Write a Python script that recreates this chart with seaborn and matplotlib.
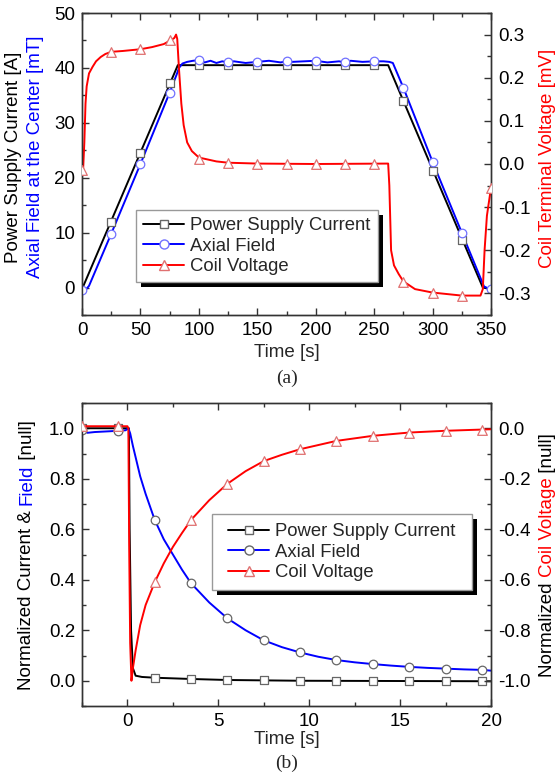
# Coil ramp test: supply current, axial field and coil voltage
import numpy as np
import pandas as pd
import matplotlib
matplotlib.use("Agg")
import matplotlib.pyplot as plt
import seaborn as sns
from matplotlib.lines import Line2D
from matplotlib.patches import Rectangle
from matplotlib.transforms import IdentityTransform

# ---------------- panel (a) data ----------------
# power supply current [A]
a_cur_t = [1, 82, 262, 343, 350]
a_cur_v = [0.2, 40.5, 40.5, 0.0, -0.3]
# axial field at the center [mT]
a_fld_t = [0, 2, 4, 6, 25, 50, 75, 81, 83, 86, 90, 95, 100, 105, 110, 115, 120,
           125, 130, 140, 150, 160, 170, 175, 180, 190, 200, 210, 220, 225, 230,
           240, 250, 258, 263, 266, 275, 300, 325, 344, 347, 350]
a_fld_v = [-0.7, -0.5, -0.2, 0.3, 9.8, 22.5, 35.5, 38.8, 40.0, 40.8, 41.1, 41.3,
           41.4, 41.0, 41.3, 40.9, 41.2, 41.0, 41.2, 40.9, 41.1, 41.3, 41.0, 41.2,
           41.1, 41.2, 41.3, 41.0, 41.2, 41.0, 41.3, 41.1, 41.2, 41.2, 41.1, 40.9,
           36.4, 22.9, 10.0, 0.2, -0.1, -0.2]
# coil terminal voltage [mV]
a_vol_t = [0, 1, 2, 3, 4, 6, 9, 12, 16, 20, 25, 35, 50, 60, 70, 76, 79, 80.5,
           81.5, 83, 85, 87, 90, 94, 100, 115, 125, 150, 200, 262, 263, 264.5,
           267, 271, 275, 285, 300, 325, 341, 343, 344.5, 346.5, 350]
a_vol_v = [-0.03, -0.01, 0.05, 0.14, 0.18, 0.21, 0.225, 0.238, 0.248, 0.255,
           0.26, 0.262, 0.266, 0.271, 0.278, 0.287, 0.292, 0.30, 0.29, 0.22, 0.14,
           0.09, 0.05, 0.03, 0.015, 0.006, 0.003, 0.001, 0.0, 0.001, -0.05, -0.2,
           -0.235, -0.255, -0.272, -0.29, -0.298, -0.305, -0.305, -0.29, -0.2,
           -0.12, -0.055]
# symbols
a_sq_t = [25, 50, 75, 100, 125, 150, 175, 200, 225, 250, 275, 300, 325]
a_sq_v = [12.0, 24.5, 37.2, 40.5, 40.5, 40.5, 40.5, 40.5, 40.5, 40.5, 34.0, 21.3, 8.7]
a_mk_t = [0, 25, 50, 75, 100, 125, 150, 175, 200, 225, 250, 275, 300, 325, 350]
a_ci_v = [-0.5, 9.8, 22.5, 35.5, 41.4, 41.0, 41.0, 41.2, 41.2, 41.0, 41.2, 36.4,
          22.9, 10.0, -0.2]
a_tr_v = [-0.014, 0.26, 0.267, 0.287, 0.011, 0.003, 0.0, 0.0, 0.0, 0.0, 0.0,
          -0.273, -0.298, -0.305, -0.055]

# ---------------- panel (b) data ----------------
b_cur_t = [-2.5, 0.08, 0.12, 0.2, 0.3, 0.45, 0.8, 1.5, 3.5, 5.5, 9.5, 20]
b_cur_v = [1.0, 1.0, 0.6, 0.2, 0.05, 0.02, 0.015, 0.012, 0.007, 0.003, 0.0, -0.002]
b_fld_t = [-2.5, -2.2, -1.8, -1.0, -0.5, -0.1, 0.05, 0.15, 0.3, 0.5, 0.7, 1.0,
           1.5, 2.0, 2.5, 3.0, 3.5, 4.5, 5.5, 6.5, 7.5, 8.5, 9.5, 10.5, 11.5,
           12.5, 13.5, 14.5, 15.5, 16.5, 17.5, 18.5, 19.5, 20]
b_fld_v = [0.995, 0.982, 0.985, 0.988, 0.99, 0.992, 1.0, 0.98, 0.93, 0.87, 0.81,
           0.74, 0.637, 0.56, 0.5, 0.44, 0.386, 0.31, 0.247, 0.2, 0.16, 0.133,
           0.112, 0.095, 0.082, 0.073, 0.066, 0.06, 0.055, 0.051, 0.048, 0.045,
           0.043, 0.04]
b_vol_t = [-2.5, 0.0, 0.05, 0.1, 0.15, 0.22, 0.3, 0.45, 0.7, 1.0, 1.5, 2.0, 2.5,
           3.0, 3.5, 4.5, 5.5, 6.5, 7.5, 8.5, 9.5, 11.5, 13.5, 15.5, 17.5, 20]
b_vol_v = [0.008, 0.008, 0.0, -0.5, -0.85, -1.0, -0.95, -0.88, -0.78, -0.7,
           -0.61, -0.535, -0.47, -0.415, -0.363, -0.285, -0.22, -0.17, -0.13,
           -0.105, -0.083, -0.05, -0.03, -0.017, -0.01, -0.004]
b_mk_t = [-2.5, -0.5, 1.5, 3.5, 5.5, 7.5, 9.5, 11.5, 13.5, 15.5, 17.5, 19.5]
b_sq_v = [1.0, 1.0, 0.012, 0.007, 0.003, 0.001, 0.0, 0.0, 0.0, 0.0, 0.0, -0.001]
b_ci_v = [0.995, 0.99, 0.637, 0.386, 0.247, 0.16, 0.112, 0.082, 0.066, 0.055,
          0.048, 0.043]
b_tr_v = [0.008, 0.008, -0.61, -0.363, -0.22, -0.13, -0.083, -0.05, -0.03,
          -0.017, -0.01, -0.005]

labels = ["Power Supply Current", "Axial Field", "Coil Voltage"]

# ---------------- style ----------------
sns.set_style("ticks")
plt.rcParams["font.family"] = ["Liberation Sans", "DejaVu Sans"]
plt.rcParams["axes.linewidth"] = 1.0
plt.rcParams["axes.edgecolor"] = "#333333"

BLACK, BLUE, RED = "#000000", "#0000ff", "#ff0000"
LW = 1.4
FS = 13.5
LABEL_FS = 13.5

fig = plt.figure(figsize=(5.6, 7.8), dpi=100)
W, H = 560, 780


def px_axes(x0, y0, x1, y1):
    return fig.add_axes([x0 / W, 1 - y1 / H, (x1 - x0) / W, (y1 - y0) / H])


def style_axis(ax):
    ax.tick_params(axis="both", which="both", direction="in", labelsize=FS,
                   colors="#333333", labelcolor="black")
    ax.tick_params(which="major", length=5, width=1, pad=5)
    ax.tick_params(which="minor", length=3, width=1)


def curve(ax, t, v, color):
    sns.lineplot(x=t, y=v, ax=ax, color=color, lw=LW, estimator=None, sort=False)


def symbols(ax, t, v, marker, edge, size):
    sns.scatterplot(x=t, y=v, ax=ax, marker=marker, s=size, color="white",
                    edgecolor=edge, linewidth=0.9, zorder=3)


def add_legend(ax, anchor, circ_edge):
    handles = [
        Line2D([], [], color=BLACK, lw=LW, marker="s", ms=6, mfc="white", mec="#666666"),
        Line2D([], [], color=BLUE, lw=LW, marker="o", ms=6.5, mfc="white", mec=circ_edge),
        Line2D([], [], color=RED, lw=LW, marker="^", ms=7, mfc="white", mec="#e07070"),
    ]
    leg = ax.legend(handles, labels, loc="upper left", bbox_to_anchor=anchor,
                    borderaxespad=0, fontsize=13.3, handlelength=2.2,
                    handletextpad=0.35, borderpad=0.4, labelspacing=0.18,
                    fancybox=False, framealpha=1)
    leg.get_frame().set_visible(False)
    return leg


def legend_frame(ax, leg, pad_x, pad_y):
    # Origin-like frame: thin grey box with solid black drop shadow
    bb = leg.get_window_extent()
    x0, y0 = bb.x0 - pad_x, bb.y0 - pad_y
    w, h = bb.width + 2 * pad_x, bb.height + 2 * pad_y
    ax.add_artist(Rectangle((x0 + 5, y0 - 5), w, h, transform=IdentityTransform(),
                            facecolor="black", edgecolor="none", zorder=4.5))
    ax.add_artist(Rectangle((x0, y0), w, h, transform=IdentityTransform(),
                            facecolor="white", edgecolor="#999999", lw=1.0,
                            zorder=4.6))


def vertical_text(x_px, yc_px, parts, size):
    r = fig.canvas.get_renderer()
    heights = []
    for s, c in parts:
        t = fig.text(0, 0, s, rotation=90, fontsize=size)
        heights.append(t.get_window_extent(r).height)
        t.remove()
    y = yc_px + sum(heights) / 2  # top-down pixel coords: bottom of the text
    for (s, c), h in zip(parts, heights):
        fig.text(x_px / W, 1 - y / H, s, rotation=90, color=c, fontsize=size,
                 ha="center", va="bottom")
        y -= h


# ---------------- panel (a) ----------------
ax1 = px_axes(82, 13, 491, 315)
ax1b = ax1.twinx()
curve(ax1, a_cur_t, a_cur_v, BLACK)
curve(ax1, a_fld_t, a_fld_v, BLUE)
symbols(ax1, a_sq_t, a_sq_v, "s", "#666666", 30)
symbols(ax1, a_mk_t, a_ci_v, "o", "#7070ff", 38)
curve(ax1b, a_vol_t, a_vol_v, RED)
symbols(ax1b, a_mk_t, a_tr_v, "^", "#e07070", 48)

ax1.set_xlim(0, 350)
ax1.set_ylim(-5, 50)
ax1b.set_ylim(-0.35, 0.35)
ax1.set_xticks(np.arange(0, 351, 50))
ax1.set_xticks(np.arange(0, 351, 25), minor=True)
ax1.set_yticks(np.arange(0, 51, 10))
ax1.set_yticks(np.arange(-5, 51, 5), minor=True)
ax1b.set_yticks([-0.3, -0.2, -0.1, 0.0, 0.1, 0.2, 0.3])
ax1b.set_yticks(np.arange(-0.35, 0.351, 0.05), minor=True)
ax1b.yaxis.set_major_formatter(lambda v, p: f"{v:.1f}".replace("-0.0", "0.0"))
ax1.tick_params(top=True, which="both")
for a in (ax1, ax1b):
    style_axis(a)
    a.set_xlabel("")
    a.set_ylabel("")
leg1 = add_legend(ax1b, ((136 - 82) / 409, (315 - 210) / 302), "#7070ff")

# ---------------- panel (b) ----------------
ax2 = px_axes(82, 403, 491, 706)
ax2b = ax2.twinx()
curve(ax2, b_cur_t, b_cur_v, BLACK)
curve(ax2, b_fld_t, b_fld_v, BLUE)
symbols(ax2, b_mk_t, b_sq_v, "s", "#666666", 30)
symbols(ax2, b_mk_t, b_ci_v, "o", "#666666", 38)
curve(ax2b, b_vol_t, b_vol_v, RED)
symbols(ax2b, b_mk_t, b_tr_v, "^", "#e07070", 48)

ax2.set_xlim(-2.5, 20)
ax2.set_ylim(-0.1, 1.1)
ax2b.set_ylim(-1.1, 0.1)
ax2.set_xticks([0, 5, 10, 15, 20])
ax2.set_xticks(np.arange(-2.5, 20.1, 2.5), minor=True)
ax2.set_yticks([0.0, 0.2, 0.4, 0.6, 0.8, 1.0])
ax2.set_yticks(np.arange(-0.1, 1.11, 0.1), minor=True)
ax2b.set_yticks([-1.0, -0.8, -0.6, -0.4, -0.2, 0.0])
ax2b.set_yticks(np.arange(-1.1, 0.11, 0.1), minor=True)
ax2.yaxis.set_major_formatter(lambda v, p: f"{v:.1f}")
ax2b.yaxis.set_major_formatter(lambda v, p: f"{v:.1f}".replace("-0.0", "0.0"))
ax2.tick_params(top=True, which="both")
for a in (ax2, ax2b):
    style_axis(a)
    a.set_xlabel("")
    a.set_ylabel("")
leg2 = add_legend(ax2b, ((221 - 82) / 409, (706 - 516) / 303), "#666666")

# ---------------- labels ----------------
fig.text(286.5 / W, 1 - 353 / H, "Time [s]", ha="center", va="center", fontsize=LABEL_FS)
fig.text(286.5 / W, 1 - 740 / H, "Time [s]", ha="center", va="center", fontsize=LABEL_FS)
fig.text(287 / W, 1 - 378 / H, "(a)", ha="center", va="center", fontsize=14,
         family="Liberation Serif")
fig.text(287 / W, 1 - 763 / H, "(b)", ha="center", va="center", fontsize=14,
         family="Liberation Serif")

fig.canvas.draw()
vertical_text(14, 157, [("Power Supply Current [A]", BLACK)], LABEL_FS)
vertical_text(36, 157, [("Axial Field at the Center [mT]", BLUE)], LABEL_FS)
vertical_text(547, 158, [("Coil Terminal Voltage [mV]", RED)], LABEL_FS)
vertical_text(27, 555, [("Normalized Current & ", BLACK), ("Field", BLUE),
                        (" [null]", BLACK)], LABEL_FS)
vertical_text(548, 555, [("Normalized ", BLACK), ("Coil Voltage", RED),
                         (" [null]", BLACK)], LABEL_FS)

# legend frames and shadows
fig.canvas.draw()
legend_frame(ax1b, leg1, 0, 0)
legend_frame(ax2b, leg2, 9, 2)

fig.savefig("out.png", dpi=100)
